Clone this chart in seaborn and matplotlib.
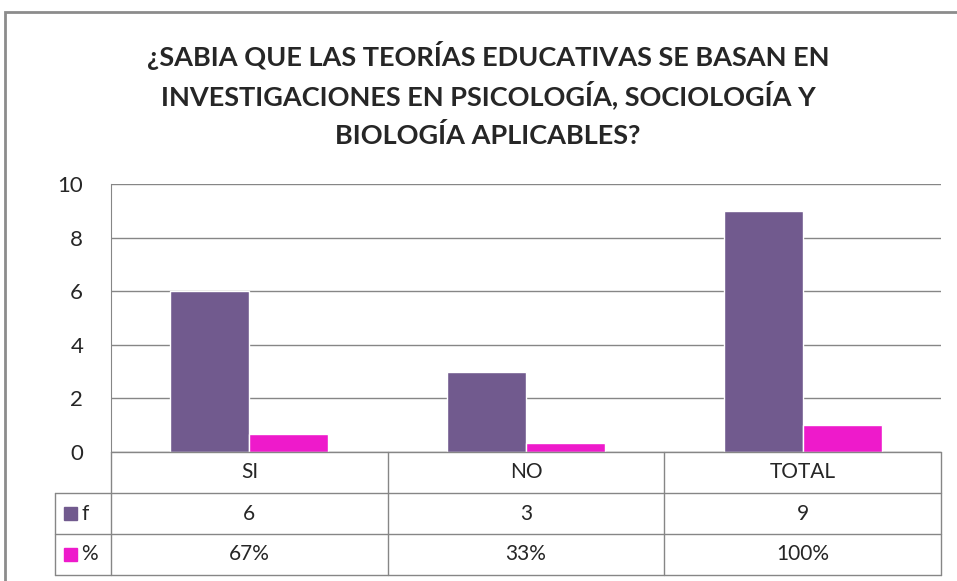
import numpy as np
import pandas as pd
import matplotlib.pyplot as plt
import matplotlib.transforms as mtransforms
from matplotlib.patches import Rectangle
import seaborn as sns

# datos de la encuesta
categorias = ['SI', 'NO', 'TOTAL']
frecuencia = [6, 3, 9]
porcentaje = [0.67, 0.33, 1.00]
etiquetas_pct = ['67%', '33%', '100%']
series = ['f', '%']
colores = ['#715A8E', '#EE1ACB']
titulo = ['¿SABIA QUE LAS TEORÍAS EDUCATIVAS SE BASAN EN',
          'INVESTIGACIONES EN PSICOLOGÍA, SOCIOLOGÍA Y',
          'BIOLOGÍA APLICABLES?']

df = pd.DataFrame({'cat': categorias * 2,
                   'valor': frecuencia + porcentaje,
                   'serie': ['f'] * 3 + ['%'] * 3})

sns.set_style('white')
plt.rcParams['font.family'] = ['Lato', 'DejaVu Sans']

W, H = 957, 581
fig = plt.figure(figsize=(W / 100, H / 100), dpi=100)
ax = fig.add_axes([111 / W, 1 - 452 / H, 830 / W, 268 / H])

sns.barplot(data=df, x='cat', y='valor', hue='serie', order=categorias,
            hue_order=series, palette=colores, width=0.57, saturation=1,
            errorbar=None, legend=False, ax=ax)

gris = '#868686'
ax.set_xlim(-0.5, 2.5)
ax.set_ylim(0, 10)
ax.set_yticks(range(0, 11, 2))
ax.set_xticks([])
ax.set_xlabel('')
ax.set_ylabel('')
ax.yaxis.grid(True, color=gris, lw=1)
ax.set_axisbelow(True)
for s in ['top', 'right', 'bottom']:
    ax.spines[s].set_visible(False)
ax.spines['left'].set_color(gris)
ax.tick_params(axis='y', length=0, pad=20, labelsize=16)

# tabla de datos debajo del grafico
trans = mtransforms.blended_transform_factory(ax.transData, ax.transAxes)
rh = 41 / 268
xl = -56 / 830
kw = dict(color=gris, lw=1, clip_on=False)
ax.plot([0, 1], [0, 0], transform=ax.transAxes, **kw)
for k in [1, 2, 3]:
    ax.plot([xl, 1], [-k * rh, -k * rh], transform=ax.transAxes, **kw)
for xv in [-0.5, 0.5, 1.5, 2.5]:
    ax.plot([xv, xv], [0, -3 * rh], transform=trans, **kw)
ax.plot([xl, xl], [-rh, -3 * rh], transform=ax.transAxes, **kw)

for i, c in enumerate(categorias):
    ax.text(i, -0.5 * rh, c, transform=trans, ha='center', va='center', fontsize=15)
    ax.text(i, -1.5 * rh, str(frecuencia[i]), transform=trans, ha='center', va='center', fontsize=15)
    ax.text(i, -2.5 * rh, etiquetas_pct[i], transform=trans, ha='center', va='center', fontsize=15)

for k, (s, col) in enumerate(zip(series, colores)):
    yc = -(1.5 + k) * rh
    ax.add_patch(Rectangle((-47 / 830, yc - 6.5 / 268), 13 / 830, 13 / 268,
                           transform=ax.transAxes, color=col, clip_on=False))
    ax.text(-30 / 830, yc, s, transform=ax.transAxes, ha='left', va='center', fontsize=15)

for k, linea in enumerate(titulo):
    fig.text(488 / W, 1 - (55 + 40 * k) / H, linea, ha='center', va='center',
             fontsize=19.5, fontweight='bold')

# marco exterior
fig.add_artist(Rectangle((5 / W, -0.1), 2, 1.1 - 12 / H, transform=fig.transFigure,
                         fill=False, ec='#8c8c8c', lw=2))

fig.savefig('out.png', dpi=100)
